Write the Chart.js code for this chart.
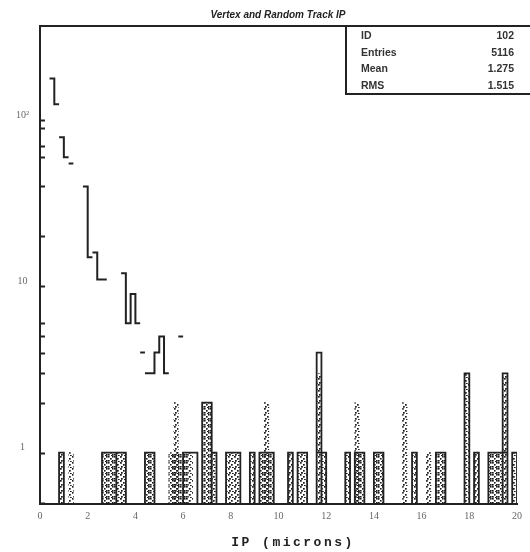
<!DOCTYPE html>
<html>
<head>
<meta charset="utf-8">
<script src="https://cdn.jsdelivr.net/npm/chart.js@4"></script>
<style>
    body { margin: 0; background: #fff; }
    #wrap { position: relative; width: 530px; height: 552px; }
    #title {
        position: absolute; top: 9px; left: 178px; width: 200px;
        text-align: center; font: italic bold 10px "Liberation Sans", sans-serif; color: #222;
    }
    #stats {
        position: absolute; left: 345px; top: 27px; width: 185px; height: 66px;
        border-left: 2px solid #222; border-bottom: 2px solid #222;
        font: bold 10.5px "Liberation Sans", sans-serif; color: #333;
    }
    .row { display: flex; justify-content: space-between; height: 16.5px; line-height: 16.5px; padding: 0 18px 0 14px; }
    #xtitle {
        position: absolute; top: 535px; left: 193px; width: 200px; text-align: center;
        font: bold 13px "Liberation Mono", monospace; letter-spacing: 2.5px; color: #222;
    }
</style>
</head>
<body>
<div id="wrap">
    <canvas id="histo" width="530" height="552"></canvas>
    <div id="title">Vertex and Random Track IP</div>
    <div id="stats"></div>
    <div id="xtitle">IP (microns)</div>
</div>
<script>
// bin width in microns
const BIN = 0.2;
const Y_MIN = 0.49;
const Y_MAX = 370;

// visible pieces of the main histogram: first bin edge and counts per bin
const stepStart = [0.4, 0.8, 1.2, 1.8, 2.2, 3.4, 4.2, 4.4, 5.8];
const stepCounts = [[179, 125], [79, 60], [55], [40, 15], [16, 11, 11], [12, 6, 9, 6], [4], [3, 3, 4, 5, 3], [5]];

// dotted bins (low edge, count)
const dotLo = [0.8, 1.2, 3.2, 3.4, 5.6, 6.2, 7.2, 7.8, 8.0, 8.2, 8.8, 9.4, 10.4, 10.8, 11.0, 11.6, 11.8, 12.8, 13.2, 15.2, 15.6, 16.2, 17.8, 18.2, 19.4, 19.8];
const dotN = [1, 1, 1, 1, 2, 1, 1, 1, 1, 1, 1, 2, 1, 1, 1, 3, 1, 1, 2, 2, 1, 1, 3, 1, 3, 1];

// cross-hatched bins (low edge, count)
const crossLo = [2.6, 2.8, 3.0, 4.4, 4.6, 5.4, 5.6, 5.8, 6.0, 6.8, 7.0, 9.2, 9.4, 9.6, 13.2, 13.4, 14.0, 14.2, 16.6, 16.8, 18.8, 19.0, 19.2];
const crossN = [1, 1, 1, 1, 1, 1, 1, 1, 1, 2, 2, 1, 1, 1, 1, 1, 1, 1, 1, 1, 1, 1, 1];

// outlined groups of bins (from, to, count)
const boxLo = [0.8, 2.6, 3.2, 4.4, 6.0, 6.8, 7.2, 7.8, 8.8, 9.2, 10.4, 10.8, 11.6, 11.6, 12.8, 13.2, 14.0, 15.6, 16.6, 17.8, 18.2, 18.8, 19.4, 19.8];
const boxHi = [1.0, 3.2, 3.6, 4.8, 6.6, 7.2, 7.4, 8.4, 9.0, 9.8, 10.6, 11.2, 11.8, 12.0, 13.0, 13.6, 14.4, 15.8, 17.0, 18.0, 18.4, 19.6, 19.6, 20.0];
const boxN = [1, 1, 1, 1, 1, 2, 1, 1, 1, 1, 1, 1, 4, 1, 1, 1, 1, 1, 1, 3, 1, 1, 3, 1];

// axis ticks
const xTickStep = 2;
const yLabelVals = [1, 10, 100];
const yLabelText = ['1', '10', '10²'];
const yMinorTicks = [0.5, 1, 2, 3, 4, 5, 6, 10, 20, 40, 60, 70, 90, 100];

// stats box
const statNames = ['ID', 'Entries', 'Mean', 'RMS'];
const statValues = ['102', '5116', '1.275', '1.515'];

document.getElementById('stats').innerHTML = statNames.map((n, i) =>
    `<div class="row"><span>${n}</span><span>${statValues[i]}</span></div>`).join('');

// small fill patterns
function makePattern(size, dots, dot) {
    const c = document.createElement('canvas');
    c.width = c.height = size;
    const g = c.getContext('2d');
    g.fillStyle = '#1c1c1c';
    dots.forEach(([x, y]) => g.fillRect(x, y, dot, dot));
    return g.createPattern(c, 'repeat');
}
const ctx = document.getElementById('histo').getContext('2d');
const dotFill = makePattern(6, [[0, 0], [3, 2], [1, 4], [4, 5]], 1.7);
const crossFill = makePattern(6, [[0, 0], [2, 2], [4, 4], [4, 0], [0, 4], [3, 5]], 1.6);

function binBars(lo, n) {
    return lo.map((x, i) => ({ x: x + BIN / 2, y: n[i] }));
}

function stepPoints(starts, counts) {
    const pts = [];
    starts.forEach((s, i) => {
        const c = counts[i];
        c.forEach((v, k) => pts.push({ x: s + k * BIN, y: v }));
        const end = s + c.length * BIN;
        pts.push({ x: end, y: c[c.length - 1] });
        pts.push({ x: end, y: null });
    });
    return pts;
}

function boxPoints(lo, hi, n) {
    const pts = [];
    lo.forEach((x, i) => {
        pts.push({ x: x, y: Y_MIN }, { x: x, y: n[i] }, { x: hi[i], y: Y_MIN }, { x: hi[i], y: null });
    });
    return pts;
}

// ticks inside the frame and the top frame line
const frame = {
    id: 'frame',
    afterDraw(chart) {
        const c = chart.ctx, a = chart.chartArea, y = chart.scales.y;
        c.save();
        c.strokeStyle = '#222';
        c.lineWidth = 2;
        c.beginPath();
        yMinorTicks.forEach(v => {
            const py = Math.round(y.getPixelForValue(v)) + 0.5;
            c.moveTo(a.left, py);
            c.lineTo(a.left + 5, py);
        });
        c.moveTo(a.left - 1, a.top);
        c.lineTo(chart.width, a.top);
        c.stroke();
        c.restore();
    }
};

const tickFont = { family: '"Liberation Serif", serif', size: 10 };

new Chart(ctx, {
    type: 'bar',
    data: {
        datasets: [
            {
                type: 'bar', data: binBars(crossLo, crossN), backgroundColor: crossFill,
                borderWidth: 0, grouped: false, barPercentage: 1, categoryPercentage: 1, order: 3
            },
            {
                type: 'bar', data: binBars(dotLo, dotN), backgroundColor: dotFill,
                borderWidth: 0, grouped: false, barPercentage: 1, categoryPercentage: 1, order: 2
            },
            {
                type: 'line', data: boxPoints(boxLo, boxHi, boxN), stepped: 'before',
                borderColor: '#222', borderWidth: 1.8, pointRadius: 0, fill: false, spanGaps: false, order: 1
            },
            {
                type: 'line', data: stepPoints(stepStart, stepCounts), stepped: 'before',
                borderColor: '#222', borderWidth: 2, pointRadius: 0, fill: false, spanGaps: false, order: 0
            }
        ]
    },
    options: {
        responsive: false,
        animation: false,
        layout: { padding: { top: 26, right: 13, left: 0, bottom: 0 } },
        plugins: {
            legend: { display: false },
            tooltip: { enabled: false },
            title: { display: false }
        },
        scales: {
            x: {
                type: 'linear', min: 0, max: 20, offset: false,
                grid: { display: false, drawTicks: false, offset: false },
                border: { display: true, color: '#222', width: 2 },
                ticks: { stepSize: xTickStep, padding: 6, maxRotation: 0, font: tickFont, color: '#666' },
                afterFit: s => { s.height = 48; }
            },
            y: {
                type: 'logarithmic', min: Y_MIN, max: Y_MAX,
                grid: { display: false, drawTicks: false },
                border: { display: true, color: '#222', width: 2 },
                afterBuildTicks: s => { s.ticks = yLabelVals.map(v => ({ value: v })); },
                ticks: {
                    callback: v => yLabelText[yLabelVals.indexOf(v)],
                    crossAlign: 'center', padding: 11, labelOffset: -5,
                    font: tickFont, color: '#666'
                },
                afterFit: s => { s.width = 40; }
            }
        }
    },
    plugins: [frame]
});
</script>
</body>
</html>
